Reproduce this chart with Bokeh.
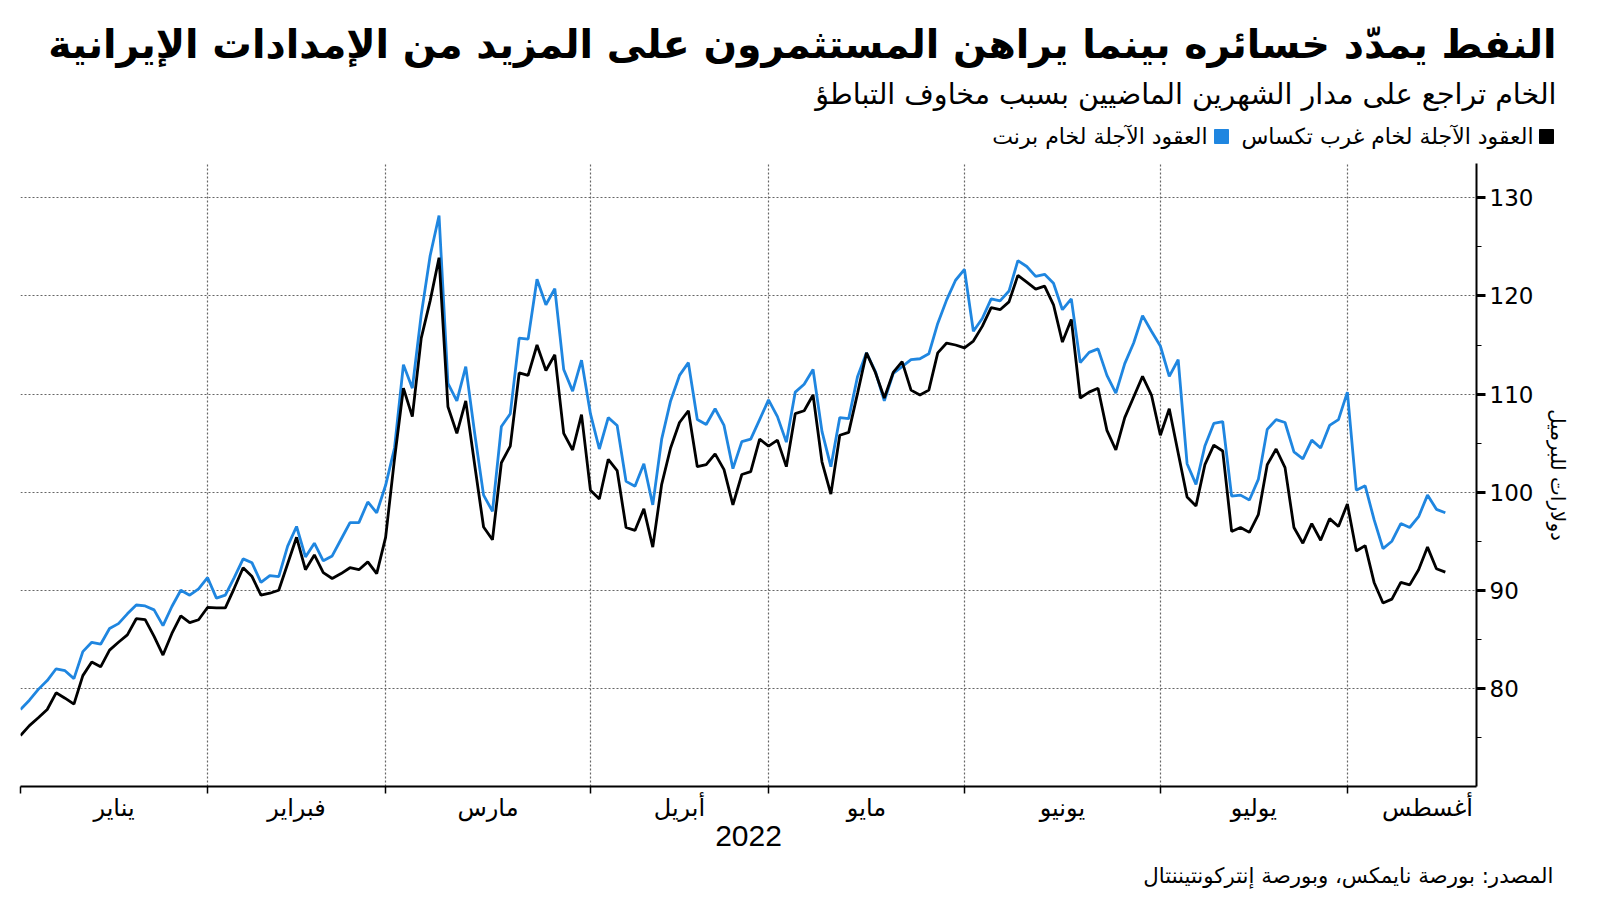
from bokeh.plotting import figure
from bokeh.models import Range1d, FixedTicker
from bokeh.layouts import column
from bokeh.core.properties import value
from bokeh.embed import file_html
from bokeh.resources import INLINE

# ---------------- texts ----------------
title_text = "النفط يمدّد خسائره بينما يراهن المستثمرون على المزيد من الإمدادات الإيرانية"
subtitle_text = "الخام تراجع على مدار الشهرين الماضيين بسبب مخاوف التباطؤ"
legend_wti = "العقود الآجلة لخام غرب تكساس"
legend_brent = "العقود الآجلة لخام برنت"
source_text = "المصدر: بورصة نايمكس، وبورصة إنتركونتيننتال"
y_title = "دولارات للبرميل"
year_label = "2022"

# ---------------- categories / ticks ----------------
month_names = ["يناير", "فبراير", "مارس", "أبريل", "مايو", "يونيو", "يوليو", "أغسطس"]
month_start_idx = [0, 21, 41, 64, 84, 106, 128, 149]     # trading-day index of month start
month_label_pos = [10.5, 31, 52.5, 74, 95, 117, 138.5, 158]
y_ticks = [80, 90, 100, 110, 120, 130]
y_minor_ticks = [75, 85, 95, 105, 115, 125]

# ---------------- series (USD per barrel, by trading day) ----------------
brent = [
    77.85, 78.8, 79.9, 80.8, 82.0, 81.8, 81.0, 83.75, 84.7, 84.5,
    86.1, 86.6, 87.6, 88.5, 88.4, 88.0, 86.4, 88.35, 90.0, 89.5,
    90.15, 91.3, 89.2, 89.5, 91.3, 93.2, 92.8, 90.8, 91.5, 91.4,
    94.5, 96.5, 93.4, 94.8, 93.0, 93.5, 95.2, 96.9, 96.9, 99.0,
    97.9, 100.7, 104.5, 113.0, 110.6, 118.1, 124.1, 128.2, 111.1, 109.3,
    112.8, 106.0, 99.7, 98.05, 106.7, 108.0, 115.7, 115.6, 121.7, 119.1,
    120.75, 112.5, 110.3, 113.45, 108.0, 104.4, 107.6, 106.8, 101.1, 100.6,
    102.9, 98.7, 105.4, 109.3, 111.9, 113.2, 107.4, 106.9, 108.5, 106.8,
    102.4, 105.15, 105.4, 107.4, 109.4, 107.7, 105.1, 110.2, 111.0, 112.5,
    106.2, 102.6, 107.6, 107.5, 111.8, 114.2, 112.3, 109.3, 112.1, 112.8,
    113.5, 113.6, 114.1, 117.2, 119.6, 121.6, 122.7, 116.4, 117.7, 119.7,
    119.5, 120.5, 123.6, 123.0, 122.0, 122.2, 121.3, 118.6, 119.7, 113.2,
    114.25, 114.6, 111.9, 110.1, 113.1, 115.2, 118.0, 116.4, 114.9, 111.8,
    113.5, 102.9, 100.8, 104.7, 107.0, 107.2, 99.6, 99.7, 99.2, 101.3,
    106.4, 107.4, 107.1, 104.1, 103.4, 105.3, 104.5, 106.8, 107.4, 110.2,
    100.2, 100.65, 97.2, 94.25, 95.0, 96.8, 96.4, 97.5, 99.7, 98.25,
    97.9,
]
wti = [
    75.2, 76.2, 77.0, 77.85, 79.55, 79.0, 78.4, 81.3, 82.7, 82.2,
    83.9, 84.7, 85.45, 87.1, 87.0, 85.3, 83.4, 85.6, 87.4, 86.7,
    87.0, 88.25, 88.2, 88.2, 90.2, 92.3, 91.4, 89.5, 89.7, 90.0,
    92.7, 95.4, 92.1, 93.6, 91.8, 91.2, 91.7, 92.3, 92.1, 92.9,
    91.7, 95.4, 103.4, 110.6, 107.7, 115.7, 119.5, 123.9, 108.7, 106.0,
    109.3, 102.8, 96.45, 95.15, 103.0, 104.7, 112.15, 111.9, 115.0, 112.4,
    114.0, 106.0, 104.3, 107.9, 100.2, 99.3, 103.35, 102.2, 96.4, 96.1,
    98.3, 94.4, 100.8, 104.5, 107.1, 108.3, 102.6, 102.8, 103.9, 102.3,
    98.7, 101.8, 102.1, 105.4, 104.7, 105.3, 102.6, 108.0, 108.3, 109.9,
    103.1, 99.8, 105.8, 106.1, 110.1, 114.2, 112.2, 109.6, 112.2, 113.3,
    110.4, 109.9, 110.4, 114.2, 115.2, 115.0, 114.7, 115.4, 116.9, 118.8,
    118.6, 119.4, 122.1, 121.4, 120.7, 121.0, 119.1, 115.3, 117.6, 109.6,
    110.2, 110.6, 106.3, 104.3, 107.6, 109.7, 111.8, 109.9, 105.8, 108.5,
    104.0, 99.5, 98.6, 102.8, 104.8, 104.2, 96.0, 96.4, 95.9, 97.7,
    102.8, 104.4, 102.5, 96.4, 94.8, 96.8, 95.1, 97.3, 96.5, 98.8,
    94.0, 94.55, 90.8, 88.7, 89.1, 90.8, 90.55, 92.1, 94.4, 92.2,
    91.85,
]
day_idx = list(range(len(brent)))

BLUE = "#1f86e0"
BLACK = "#000000"
AR_FONT = "DejaVu Sans"
W = 1592

# ---------------- header (title, subtitle, legend) ----------------
HEAD_H = 150
head = figure(width=W, height=HEAD_H, x_range=Range1d(0, W), y_range=Range1d(HEAD_H, 0),
              x_axis_type=None, y_axis_type=None, min_border=0,
              output_backend="svg", toolbar_location=None)
head.outline_line_color = None
head.grid.visible = False

def htext(fig, x, y, txt, size, color=BLACK, bold=False):
    fig.text(x=[x], y=[y], text=[txt], text_align="right", text_baseline="middle",
             text_font=value(AR_FONT), text_font_size=size, text_color=color,
             text_font_style="bold" if bold else "normal")

htext(head, 1556, 43, title_text, "39.4px", bold=True)
htext(head, 1556, 94, subtitle_text, "28.5px")
head.scatter(x=[1546], y=[136], marker="square", size=14, color=BLACK)
htext(head, 1533, 136, legend_wti, "22px")
head.scatter(x=[1221], y=[136], marker="square", size=14, color=BLUE)
htext(head, 1207, 136, legend_brent, "22px")

# ---------------- main chart ----------------
p = figure(
    frame_width=1456, frame_height=623,
    min_border_left=20, min_border_right=116, min_border_top=13, min_border_bottom=69,
    x_range=Range1d(0, 163.5), y_range=Range1d(70, 133.5),
    y_axis_location="right",
    output_backend="svg", toolbar_location=None,
)
p.outline_line_color = None

p.line(day_idx, brent, line_color=BLUE, line_width=2.8)
p.line(day_idx, wti, line_color=BLACK, line_width=2.8)

xa = p.xaxis[0]
xa.ticker = FixedTicker(ticks=month_label_pos, minor_ticks=month_start_idx)
xa.major_label_overrides = {float(k): v for k, v in zip(month_label_pos, month_names)}
xa.major_tick_out = 0
xa.major_tick_in = 0
xa.minor_tick_out = 7
xa.minor_tick_in = 0
xa.minor_tick_line_color = BLACK
xa.minor_tick_line_width = 1.5
xa.axis_line_color = BLACK
xa.axis_line_width = 2
xa.major_label_text_font = AR_FONT
xa.major_label_text_font_size = "24px"
xa.major_label_text_color = BLACK
xa.major_label_standoff = 0
xa.axis_label = year_label
xa.axis_label_text_font = "Liberation Sans"
xa.axis_label_text_font_style = "normal"
xa.axis_label_text_font_size = "30px"
xa.axis_label_text_color = BLACK
xa.axis_label_standoff = 1

ya = p.yaxis[0]
ya.ticker = FixedTicker(ticks=y_ticks, minor_ticks=y_minor_ticks)
ya.major_tick_out = 9
ya.major_tick_in = 0
ya.major_tick_line_width = 3
ya.major_tick_line_color = BLACK
ya.minor_tick_out = 5
ya.minor_tick_in = 0
ya.minor_tick_line_color = BLACK
ya.axis_line_color = BLACK
ya.axis_line_width = 2
ya.major_label_text_font = "DejaVu Sans"
ya.major_label_text_font_size = "23px"
ya.major_label_text_color = BLACK
ya.major_label_standoff = 4
ya.axis_label = y_title
ya.axis_label_text_font = AR_FONT
ya.axis_label_text_font_style = "normal"
ya.axis_label_text_font_size = "20px"
ya.axis_label_text_color = BLACK
ya.axis_label_standoff = 10

p.xgrid.ticker = FixedTicker(ticks=month_start_idx)
p.ygrid.ticker = FixedTicker(ticks=y_ticks)
for g in (p.xgrid[0], p.ygrid[0]):
    g.grid_line_color = "#666666"
    g.grid_line_dash = "2 2"
    g.grid_line_width = 1.2

# ---------------- footer (source) ----------------
FOOT_H = 38
foot = figure(width=W, height=FOOT_H, x_range=Range1d(0, W), y_range=Range1d(FOOT_H, 0),
              x_axis_type=None, y_axis_type=None, min_border=0,
              output_backend="svg", toolbar_location=None)
foot.outline_line_color = None
foot.grid.visible = False
htext(foot, 1553, 20, source_text, "21.3px")

# wrap header/footer so their frames are not aligned to the chart frame
layout = column(column(head), p, column(foot), spacing=0)
open("out.html", "w").write(file_html(layout, INLINE))
